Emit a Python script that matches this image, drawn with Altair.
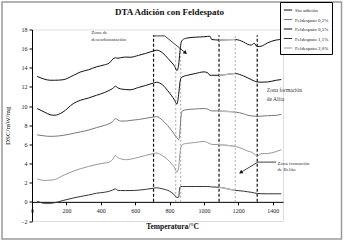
import altair as alt
import pandas as pd

# ---------------- data ----------------
temps = [30, 75, 105, 130, 180, 240, 280, 330, 375, 420, 450, 470, 485, 500, 515, 545, 570,
         620, 660, 705, 725, 760, 790, 810, 830, 843, 853, 860, 866, 875, 900, 950, 1000,
         1020, 1035, 1045, 1088, 1182, 1230, 1255, 1275, 1293, 1310, 1332, 1370, 1420, 1450]

sin_adicion = [13.1, 12.8, 12.7, 12.7, 12.75, 13.2, 13.55, 13.8, 14.1, 14.3, 14.5, 14.9, 15.05, 15.0, 15.05, 15.12, 15.1,
               15.3, 15.5, 15.75, 15.84, 15.55, 15.0, 14.6, 14.15, 13.7, 14.3, 15.6, 16.5, 16.9, 17.1, 17.2, 17.24,
               17.28, 17.3, 16.96, 16.9, 16.95, 16.7, 16.45, 16.37, 16.55, 16.22, 16.25, 16.6, 16.9, 16.96]

feld_05 = [9.74, 9.35, 9.1, 9.04, 9.38, 10.26, 10.6, 10.85, 11.13, 11.4, 11.65, 11.85, 12.07, 11.9, 11.8, 11.73, 11.7,
           11.95, 12.15, 12.4, 12.49, 12.2, 11.6, 11.13, 10.6, 10.2, 11.2, 12.4, 12.9, 13.05, 13.2, 13.4, 13.57,
           13.5, 13.22, 13.22, 13.22, 13.4, 13.15, 12.95, 12.77, 12.62, 12.52, 12.5, 12.52, 12.7, 12.77]

feld_02 = [7.0, 6.88, 6.84, 6.85, 6.94, 7.15, 7.3, 7.5, 7.75, 7.98, 8.17, 8.4, 8.7, 8.55, 8.44, 8.44, 8.5,
           8.6, 8.72, 8.86, 8.9, 8.5, 7.95, 7.5, 7.0, 6.7, 6.5, 7.2, 8.8, 9.5, 9.63, 9.7, 9.74,
           9.7, 9.55, 9.5, 9.49, 9.38, 9.2, 9.04, 8.98, 8.95, 8.93, 8.95, 9.0, 9.04, 9.14]

feld_20 = [2.41, 2.23, 2.27, 2.32, 2.75, 3.2, 3.45, 3.7, 3.9, 4.05, 4.15, 4.45, 4.85, 4.6, 4.5, 4.4, 4.45,
           4.65, 4.85, 5.03, 5.1, 4.8, 4.4, 4.0, 3.55, 3.1, 3.6, 4.9, 5.7, 6.0, 6.1, 6.2, 6.31,
           6.2, 6.07, 6.0, 5.97, 5.79, 5.5, 5.3, 5.2, 5.0, 4.74, 5.03, 5.05, 5.25, 5.45]

feld_15 = [0.06, -0.15, -0.15, -0.1, 0.14, 0.4, 0.55, 0.72, 0.9, 1.0, 1.11, 1.25, 1.36, 1.2, 1.18, 1.18, 1.18,
           1.22, 1.3, 1.42, 1.47, 1.35, 1.2, 1.0, 0.7, 0.45, 0.5, 1.5, 1.6, 1.6, 1.6, 1.6, 1.6,
           1.6, 1.58, 1.56, 1.53, 1.2, 1.12, 1.05, 1.0, 0.93, 0.88, 0.85, 0.84, 0.84, 0.84]

series_names = ["Sin adición", "Feldespato 0,2%", "Feldespato 0,5%", "Feldespato 1,5%", "Feldespato 2,0%"]
series_colors = ["#111111", "#777777", "#111111", "#333333", "#999999"]
series_values = {
    "Sin adición": sin_adicion,
    "Feldespato 0,2%": feld_02,
    "Feldespato 0,5%": feld_05,
    "Feldespato 1,5%": feld_15,
    "Feldespato 2,0%": feld_20,
}

x_ticks = [0, 200, 400, 600, 800, 1000, 1200, 1400]
y_ticks = [-2, 0, 2, 4, 6, 8, 10, 12, 14, 16, 18]

dashed_T = [707, 1088, 1310]
dotted_T = [836, 865, 1182]
rule_top = [16.2, 16.2, 17.4]

arrow_T = [707, 772, 890, 1420, 1314, 1217]
arrow_v = [17.33, 17.33, 15.6, 4.15, 4.15, 3.1]
arrow_id = ["a", "a", "a", "b", "b", "b"]
head_T = [890, 1217]
head_v = [15.6, 3.1]
head_angle = [129, 239]

note_T = [345, 345, 1366, 1366, 1428, 1428]
note_v = [17.76, 17.0, 11.65, 10.79, 4.04, 3.38]
note_text = ["Zona de", "descarbonatación", "Zona formación", "de Alita", "Zona formación", "de Belita"]
note_size = [5, 5, 5.5, 5.5, 5, 5]

# ---------------- tables ----------------
rows = []
for name in series_names:
    for t, v in zip(temps, series_values[name]):
        rows.append({"T": t, "v": v, "serie": name})
curves = pd.DataFrame(rows)

rules_dash = pd.DataFrame({"T": dashed_T, "y0": [0] * 3, "y1": [17.4] * 3})
rules_dot = pd.DataFrame({"T": dotted_T, "y0": [0] * 3, "y1": rule_top})
arrows = pd.DataFrame({"T": arrow_T, "v": arrow_v, "id": arrow_id, "o": list(range(len(arrow_T)))})
heads = pd.DataFrame({"T": head_T, "v": head_v, "a": head_angle})
notes = pd.DataFrame({"T": note_T, "v": note_v, "txt": note_text, "s": note_size})

SERIF = "Liberation Serif"
xs = alt.Scale(domain=[0, 1460], nice=False, zero=False)
ys = alt.Scale(domain=[-2, 18], nice=False, zero=False)

W, H = 251, 191.5

x_axis = alt.Axis(values=x_ticks, offset=-H / 10, tickSize=3, labelFontSize=6,
                  labelFont=SERIF, labelColor="#222", domainColor="#000", tickColor="#000",
                  labelOverlap=False, labelFlush=False, format="d",
                  title="Temperatura/°C", titleFont=SERIF, titleFontSize=7.5, titleFontWeight="bold",
                  titleColor="#111", titleX=140, titleY=21, grid=False, labelPadding=3)
y_axis = alt.Axis(values=y_ticks, tickSize=3, labelFontSize=6, labelFont=SERIF,
                  labelColor="#222", domainColor="#000", tickColor="#000", format="d",
                  labelOverlap=False, labelFlush=False,
                  title="DSC/mW/mg", titleFont=SERIF, titleFontSize=7, titleFontWeight="normal",
                  titleColor="#111", titleX=-22, grid=False, labelPadding=2)


def X(field="T:Q"):
    return alt.X(field, scale=xs, axis=x_axis)


def Y(field="v:Q"):
    return alt.Y(field, scale=ys, axis=y_axis)


frame = alt.Chart(pd.DataFrame({"k": [0]})).mark_rect(
    fill=None, stroke="#9a9a9a", strokeWidth=1.5
).encode(x=alt.value(-30), x2=alt.value(309.5), y=alt.value(-27.5), y2=alt.value(209.5))

dash = alt.Chart(rules_dash).mark_rule(color="#111", strokeWidth=1.2, strokeDash=[3, 2]).encode(
    x=X(), y=Y("y0:Q"), y2="y1:Q")
dot = alt.Chart(rules_dot).mark_rule(color="#aaaaaa", strokeWidth=1, strokeDash=[2, 2]).encode(
    x=X(), y=Y("y0:Q"), y2="y1:Q")

lines = alt.Chart(curves).mark_line(strokeWidth=1, interpolate="monotone").encode(
    x=X(),
    y=Y(),
    color=alt.Color("serie:N", scale=alt.Scale(domain=series_names, range=series_colors),
                    sort=series_names,
                    legend=alt.Legend(title=None, orient="none", legendX=248, legendY=-27.5,
                                      strokeColor="#000", fillColor="#fff", padding=3,
                                      symbolType="stroke", symbolSize=70, symbolStrokeWidth=1,
                                      labelFont=SERIF, labelFontSize=5, labelColor="#222",
                                      labelOffset=2, rowPadding=1.5, labelLimit=60)),
    detail="serie:N",
)

hl = alt.Chart(curves).transform_filter(
    (alt.datum.T >= 1088) & (alt.datum.T <= 1182)
).mark_line(strokeWidth=1.4, color="#bbbbbb").encode(
    x=X(), y=Y(), detail="serie:N")

arr = alt.Chart(arrows).mark_line(color="#111", strokeWidth=0.8).encode(
    x=X(), y=Y(), detail="id:N", order="o:Q")
hd = alt.Chart(heads).mark_point(shape="triangle", filled=True, color="#111", size=18, opacity=1).encode(
    x=X(), y=Y(), angle=alt.Angle("a:Q", scale=None))

txt = alt.Chart(notes).mark_text(align="left", baseline="middle", font=SERIF, color="#333").encode(
    x=X(), y=Y(), text="txt:N",
    size=alt.Size("s:Q", scale=None))

chart = alt.layer(frame, dash, dot, lines, hl, arr, hd, txt).properties(
    width=W, height=H,
    autosize=alt.AutoSizeParams(type="none"),
    padding={"left": 32, "top": 29.5, "right": 63, "bottom": 21},
    title=alt.TitleParams("DTA Adición con Feldespato", font=SERIF, fontSize=9, fontWeight="bold",
                          color="#111", dx=12, offset=-16),
).configure_view(stroke=None).configure_axis(labelOverlap=False).configure(background="#ffffff")

chart.save("out.html", embed_options={"renderer": "svg", "actions": False})
